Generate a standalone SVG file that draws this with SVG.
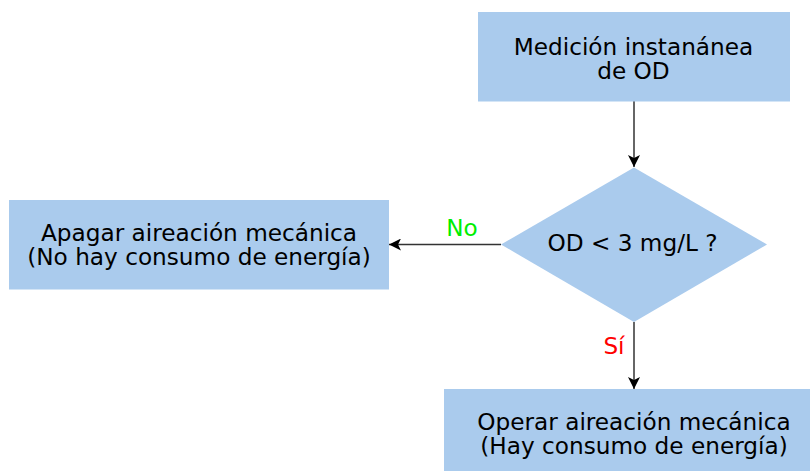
<svg xmlns="http://www.w3.org/2000/svg" width="810" height="471" viewBox="0 0 810 471">
<style>
.box{fill:#aacbed;stroke:none}
.t{font-family:"DejaVu Sans",Verdana,sans-serif;font-size:23.2px;fill:#000;text-anchor:middle}
.lbl{font-family:"DejaVu Sans",Verdana,sans-serif;font-size:23.2px;text-anchor:middle}
.edge{stroke:#333;stroke-width:1.5;fill:none}
</style>
<defs>
<marker id="arr" viewBox="0 0 12 12" refX="12" refY="6" markerWidth="12" markerHeight="12" markerUnits="userSpaceOnUse" orient="auto">
<path d="M0,0 L12,6 L0,12 L3,6 z" fill="#000"/>
</marker>
</defs>
<g id="connectors">
<line class="edge" x1="634" y1="101" x2="634" y2="167" marker-end="url(#arr)"/>
<line class="edge" x1="501" y1="244.5" x2="389" y2="244.5" marker-end="url(#arr)"/>
<line class="edge" x1="634" y1="322" x2="634" y2="389" marker-end="url(#arr)"/>
<text class="lbl" x="462" y="236" fill="#00ee00">No</text>
<text class="lbl" x="614" y="354" fill="#ff0000">Sí</text>
</g>
<g id="n1">
<rect class="box" x="478" y="12" width="312" height="89.5"/>
<text class="t" x="633.5" y="54.8">Medición instanánea</text>
<text class="t" x="633.5" y="78.5">de OD</text>
</g>
<g id="n2">
<polygon class="box" points="634,167.5 767,244.5 634,322 501,244.5"/>
<text class="t" x="632.5" y="251">OD &lt; 3 mg/L ?</text>
</g>
<g id="n3">
<rect class="box" x="9" y="200" width="380" height="89.5"/>
<text class="t" x="199" y="241">Apagar aireación mecánica</text>
<text class="t" x="199" y="265">(No hay consumo de energía)</text>
</g>
<g id="n4">
<rect class="box" x="444" y="389" width="366" height="89.5"/>
<text class="t" x="634" y="429.5">Operar aireación mecánica</text>
<text class="t" x="634" y="453.5">(Hay consumo de energía)</text>
</g>
</svg>
